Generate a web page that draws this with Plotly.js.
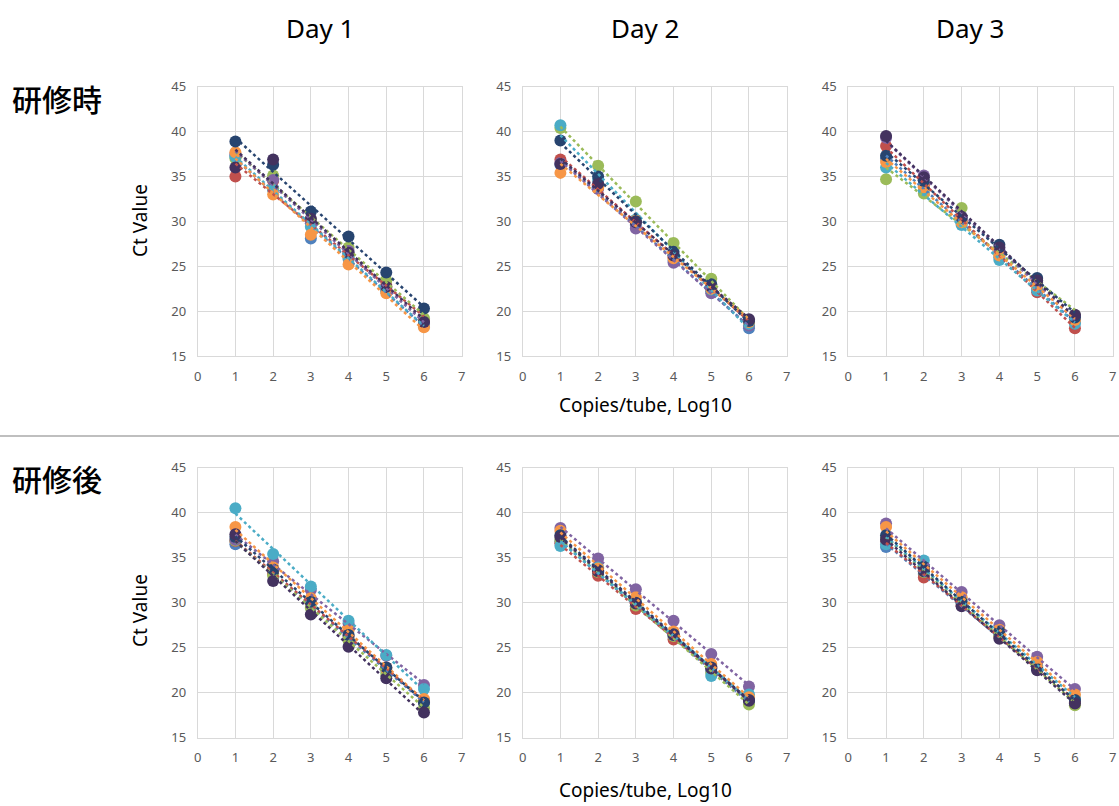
<!DOCTYPE html>
<html>
<head>
<meta charset="utf-8">
<script src="https://cdn.plot.ly/plotly-3.0.1.min.js"></script>
<style>html,body{margin:0;padding:0;background:#fff;}#chart{width:1119px;height:806px;}</style>
</head>
<body>
<div id="chart"></div>
<script>
// ---- data ----
const xValues = [1, 2, 3, 4, 5, 6];
const seriesNames = ["S1", "S2", "S3", "S4", "S5", "S6", "S7", "S8"];
const seriesColors = ["#4F81BD", "#C0504D", "#9BBB59", "#8064A2", "#4BACC6", "#F79646", "#27446F", "#43325F"];
const dayTitles = ["Day 1", "Day 2", "Day 3"];
const rowTitles = ["研修時", "研修後"];
const xTickVals = [0, 1, 2, 3, 4, 5, 6, 7];
const yTickVals = [15, 20, 25, 30, 35, 40, 45];

// 研修時 (before)
const pre_day1 = [
  [37.3, 33.7, 28.1, 25.8, 22.3, 18.5],
  [35.0, 34.5, 30.0, 26.3, 22.9, 18.9],
  [37.0, 35.1, 30.2, 27.1, 23.4, 19.2],
  [37.5, 34.6, 29.8, 26.7, 22.6, 18.6],
  [37.2, 33.5, 29.4, 26.0, 22.2, 18.3],
  [37.7, 33.0, 28.5, 25.2, 22.0, 18.2],
  [38.9, 36.3, 31.1, 28.3, 24.3, 20.3],
  [36.0, 36.9, 30.3, 26.5, 22.7, 18.8]
];
const pre_day2 = [
  [36.3, 33.9, 29.6, 25.6, 22.2, 18.1],
  [36.9, 34.0, 30.0, 26.0, 22.6, 18.9],
  [40.4, 36.2, 32.2, 27.6, 23.6, 18.8],
  [36.5, 33.6, 29.2, 25.4, 22.0, 18.4],
  [40.7, 34.6, 30.2, 26.3, 22.4, 18.6],
  [35.4, 33.8, 30.1, 25.9, 22.5, 18.8],
  [39.0, 35.0, 30.0, 26.6, 23.0, 18.9],
  [36.4, 34.2, 29.9, 26.2, 22.7, 19.1]
];
const pre_day3 = [
  [37.0, 34.2, 29.8, 26.0, 22.5, 18.8],
  [38.4, 34.0, 30.0, 26.5, 22.1, 18.1],
  [34.7, 33.1, 31.5, 26.3, 23.2, 19.5],
  [39.3, 35.1, 30.2, 26.8, 23.0, 19.4],
  [36.0, 33.5, 29.6, 25.7, 22.3, 18.6],
  [36.6, 33.8, 29.9, 26.2, 22.8, 19.0],
  [37.3, 34.5, 30.4, 27.4, 23.7, 19.3],
  [39.5, 34.9, 30.5, 27.1, 23.4, 19.6]
];
// 研修後 (after)
const post_day1 = [
  [36.5, 33.5, 29.8, 26.0, 22.5, 18.9],
  [36.85, 33.2, 30.0, 26.3, 22.8, 19.0],
  [36.9, 33.0, 29.4, 25.8, 22.1, 18.3],
  [37.0, 34.6, 31.4, 27.7, 24.1, 20.85],
  [40.5, 35.4, 31.8, 28.0, 24.2, 20.4],
  [38.4, 33.9, 30.5, 26.9, 22.7, 19.3],
  [37.3, 33.7, 30.1, 26.4, 22.8, 18.9],
  [37.6, 32.4, 28.7, 25.1, 21.6, 17.8]
];
const post_day2 = [
  [36.8, 33.3, 29.6, 26.2, 22.4, 19.0],
  [36.6, 33.0, 29.3, 25.9, 22.9, 19.3],
  [37.0, 33.4, 29.7, 26.3, 22.2, 18.7],
  [38.3, 34.9, 31.5, 28.0, 24.3, 20.7],
  [36.3, 33.9, 30.2, 26.4, 21.85, 19.8],
  [38.0, 33.8, 30.6, 26.8, 23.2, 19.5],
  [37.5, 33.6, 30.0, 26.5, 22.8, 19.2],
  [37.3, 33.5, 29.9, 26.4, 22.7, 19.1]
];
const post_day3 = [
  [36.2, 33.2, 29.9, 26.2, 22.7, 19.0],
  [36.8, 32.8, 29.7, 26.3, 23.0, 18.9],
  [37.2, 33.4, 30.0, 26.4, 22.8, 18.6],
  [38.8, 33.9, 31.2, 27.5, 24.0, 20.4],
  [36.5, 34.7, 30.4, 26.6, 22.9, 19.4],
  [38.4, 33.7, 30.6, 27.0, 23.4, 19.8],
  [37.5, 34.0, 30.1, 26.8, 22.6, 19.2],
  [37.0, 33.5, 29.6, 26.0, 22.5, 18.8]
];

// ---- build ----
const panels = [pre_day1, pre_day2, pre_day3, post_day1, post_day2, post_day3];
const W = 1119, H = 806;
const colPx = [[197.7, 461.7], [522.7, 786.7], [848.3, 1112.7]];
const rowPx = [[86.7, 356.0], [467.7, 737.7]];
const titleCenters = [320, 645, 970];

function linfit(xs, ys) {
  const n = xs.length;
  let sx = 0, sy = 0, sxx = 0, sxy = 0;
  for (let i = 0; i < n; i++) { sx += xs[i]; sy += ys[i]; sxx += xs[i]*xs[i]; sxy += xs[i]*ys[i]; }
  const b = (n*sxy - sx*sy) / (n*sxx - sx*sx);
  const a = (sy - b*sx) / n;
  return [a, b];
}

const traces = [];
const layout = {
  width: W, height: H,
  margin: {l: 0, r: 0, t: 0, b: 0},
  paper_bgcolor: "#ffffff", plot_bgcolor: "#ffffff",
  showlegend: false,
  font: {family: "Noto Sans, DejaVu Sans, sans-serif", color: "#595959"},
  annotations: [], shapes: []
};

panels.forEach((panel, p) => {
  const r = Math.floor(p / 3), c = p % 3;
  const idx = p === 0 ? "" : String(p + 1);
  const xa = "x" + idx, ya = "y" + idx;
  layout["xaxis" + idx] = {
    domain: [colPx[c][0] / W, colPx[c][1] / W],
    anchor: ya, range: [0, 7], tickvals: xTickVals, fixedrange: true,
    showgrid: true, gridcolor: "#D9D9D9", gridwidth: 1,
    showline: true, linecolor: "#D9D9D9", linewidth: 1, mirror: true,
    zeroline: false, ticks: "", ticklabelstandoff: 8,
    tickfont: {size: 13, color: "#595959", family: "Noto Sans, sans-serif"}
  };
  layout["yaxis" + idx] = {
    domain: [1 - rowPx[r][1] / H, 1 - rowPx[r][0] / H],
    anchor: xa, range: [15, 45], tickvals: yTickVals, fixedrange: true,
    showgrid: true, gridcolor: "#D9D9D9", gridwidth: 1,
    showline: true, linecolor: "#D9D9D9", linewidth: 1, mirror: true,
    zeroline: false, ticks: "", ticklabelstandoff: 8,
    tickfont: {size: 13, color: "#595959", family: "Noto Sans, sans-serif"}
  };
  panel.forEach((ys, s) => {
    traces.push({
      type: "scatter", mode: "markers", x: xValues, y: ys, xaxis: xa, yaxis: ya,
      name: seriesNames[s], hoverinfo: "skip",
      marker: {size: 12, color: seriesColors[s]}
    });
  });
  panel.forEach((ys, s) => {
    const [a, b] = linfit(xValues, ys);
    const xs = [xValues[0], xValues[xValues.length - 1]];
    traces.push({
      type: "scatter", mode: "lines", x: xs, y: xs.map(v => a + b * v), xaxis: xa, yaxis: ya,
      name: seriesNames[s] + " trend", hoverinfo: "skip",
      line: {color: seriesColors[s], width: 2.5, dash: "dot"}
    });
  });
});

// column titles
dayTitles.forEach((t, c) => {
  layout.annotations.push({
    text: t, xref: "paper", yref: "paper",
    x: titleCenters[c] / W, y: 1 - 28 / H,
    xanchor: "center", yanchor: "middle", showarrow: false,
    font: {size: 26, color: "#000000", family: "Noto Sans, sans-serif"}
  });
});
// row titles
[98, 478].forEach((yy, r) => {
  layout.annotations.push({
    text: rowTitles[r], xref: "paper", yref: "paper",
    x: 10 / W, y: 1 - yy / H, xanchor: "left", yanchor: "middle", showarrow: false,
    font: {size: 30, color: "#000000", family: "Noto Sans CJK JP, sans-serif", weight: 500}
  });
});
// axis titles
[221, 611].forEach((yy) => {
  layout.annotations.push({
    text: "Ct Value", xref: "paper", yref: "paper",
    x: 140 / W, y: 1 - yy / H, xanchor: "center", yanchor: "middle", showarrow: false,
    textangle: -90, font: {size: 19, color: "#000000", family: "Noto Sans, sans-serif"}
  });
});
[405, 790].forEach((yy) => {
  layout.annotations.push({
    text: "Copies/tube, Log10", xref: "paper", yref: "paper",
    x: 645 / W, y: 1 - yy / H, xanchor: "center", yanchor: "middle", showarrow: false,
    font: {size: 19, color: "#000000", family: "Noto Sans, sans-serif"}
  });
});
// separator
layout.shapes.push({
  type: "line", xref: "paper", yref: "paper", x0: 0, x1: 1, y0: 1 - 436 / H, y1: 1 - 436 / H,
  line: {color: "#BFBFBF", width: 2}
});

Plotly.newPlot("chart", traces, layout, {staticPlot: true, displayModeBar: false});
</script>
</body>
</html>
